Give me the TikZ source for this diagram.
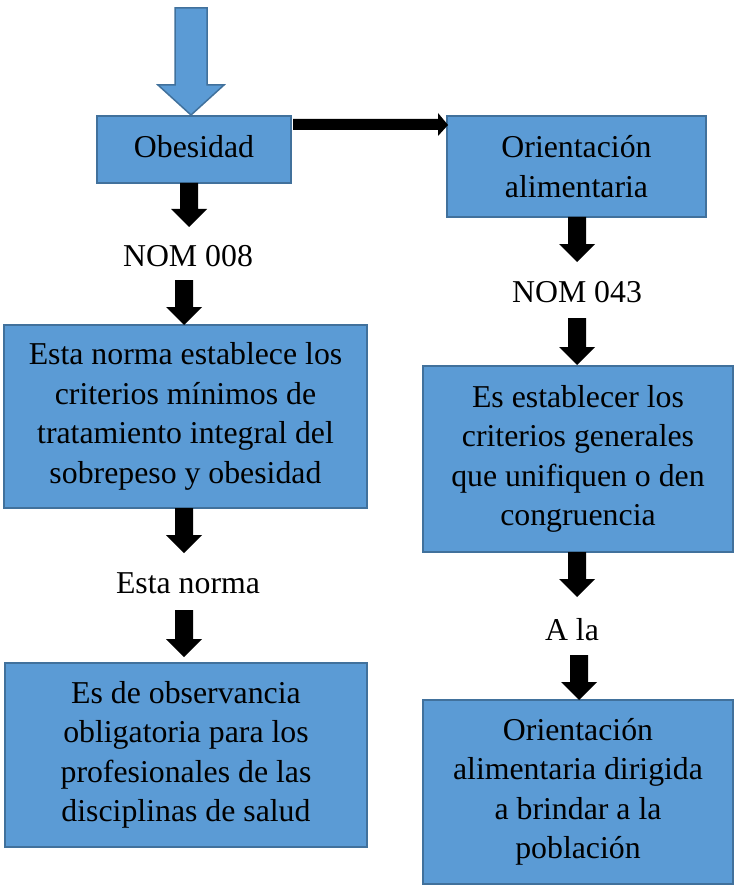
\documentclass[tikz,border=0pt]{standalone}
\usepackage{fontspec}
\setmainfont{Liberation Serif}
\definecolor{boxfill}{HTML}{5B9BD5}
\definecolor{boxline}{HTML}{41719C}
\newcommand\blkarrow[3]{\fill[black] (#1-9,#2) -- (#1+9,#2) -- (#1+9,#3-18) -- (#1+18,#3-18) -- (#1,#3) -- (#1-18,#3-18) -- (#1-9,#3-18) -- cycle;}
\begin{document}
\begin{tikzpicture}[x=1pt,y=-1pt,
  flowbox/.style={draw=boxline,fill=boxfill,line width=2pt,align=center,inner sep=0pt,
    font=\fontsize{31.8}{39.5}\selectfont},
  plain/.style={align=center,inner sep=0pt,font=\fontsize{31.8}{39.5}\selectfont}]
\useasboundingbox (0,0) rectangle (736,885);
% blue entry arrow
\draw[fill=boxfill,draw=boxline,line width=1.5pt] (175,8) -- (207,8) -- (207,85) -- (224,85) -- (191,115) -- (158,85) -- (175,85) -- cycle;
% boxes
\node[flowbox,minimum width=194pt,minimum height=67pt] (obes) at (194,149.5) {};
\node[plain] (obestext) at (194,146.5) {Obesidad};
\node[flowbox,minimum width=259pt,minimum height=101pt] (orient) at (576.5,166.5) {Orientación\\alimentaria};
\node[flowbox,minimum width=363pt,minimum height=183pt] (norma) at (185.5,416.5) {Esta norma establece los\\criterios mínimos de\\tratamiento integral del\\sobrepeso y obesidad};
\node[flowbox,minimum width=362pt,minimum height=184pt] (obs) at (186,755) {Es de observancia\\obligatoria para los\\profesionales de las\\disciplinas de salud};
\node[flowbox,minimum width=310pt,minimum height=186pt] (estab) at (578,459) {Es establecer los\\criterios generales\\que unifiquen o den\\congruencia};
\node[flowbox,minimum width=310pt,minimum height=184pt] (pobl) at (578,792) {Orientación\\alimentaria dirigida\\a brindar a la\\población};
% plain labels
\node[plain] (nom008) at (188,256) {NOM 008};
\node[plain] (estanorma) at (188,583) {Esta norma};
\node[plain] (nom043) at (577,292) {NOM 043};
\node[plain] (ala) at (572,630) {A la};
% black block arrows
\blkarrow{189}{183}{227}
\blkarrow{184}{280}{325}
\blkarrow{184}{508}{553}
\blkarrow{184}{610}{657}
\blkarrow{577}{217}{262}
\blkarrow{577}{318}{365}
\blkarrow{577}{552}{597}
\blkarrow{579}{655}{700}
% horizontal arrow
\fill[black] (293,119) -- (438,119) -- (438,113) -- (448,125) -- (438,136) -- (438,130) -- (293,130) -- cycle;
\end{tikzpicture}
\end{document}
